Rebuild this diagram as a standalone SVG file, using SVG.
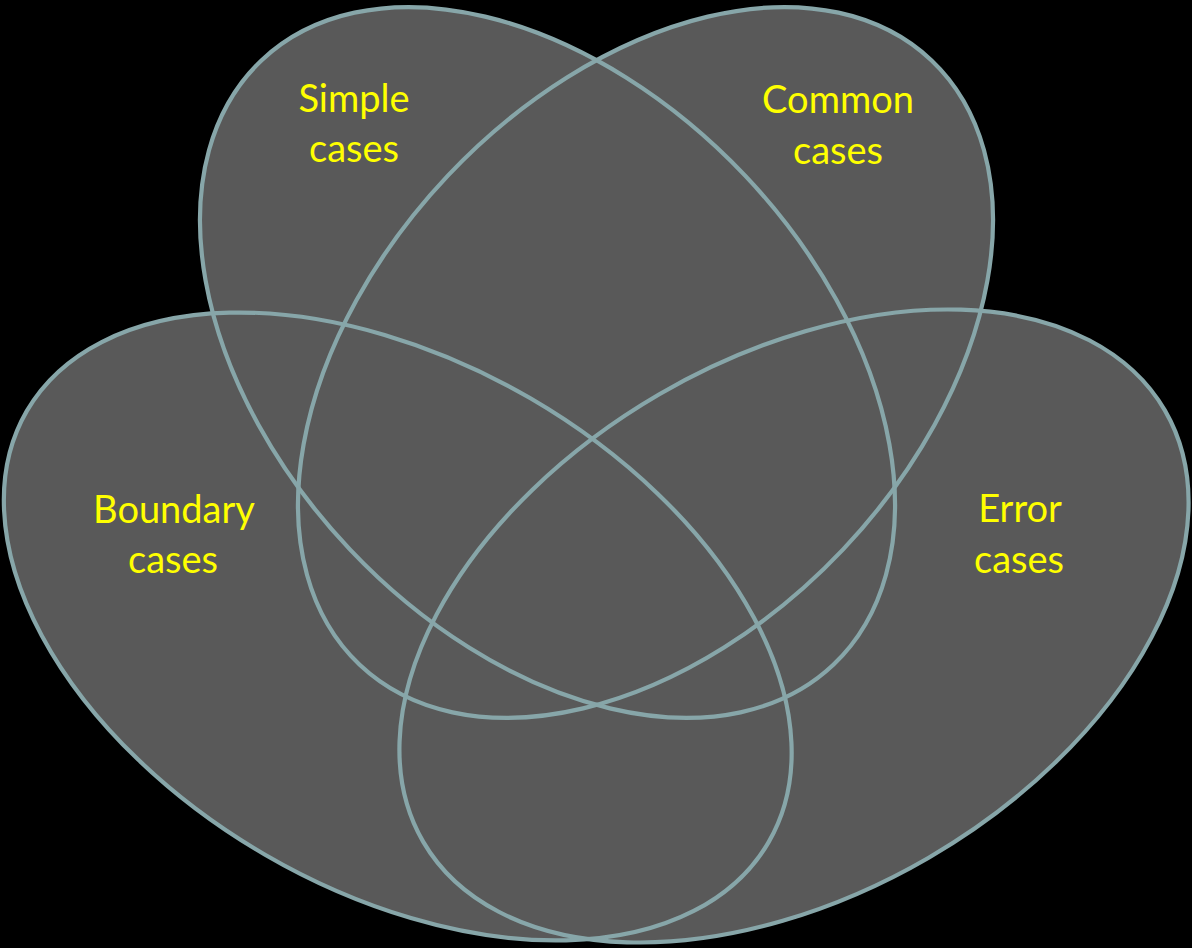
<svg xmlns="http://www.w3.org/2000/svg" xmlns:xlink="http://www.w3.org/1999/xlink" width="1192" height="948" viewBox="0 0 1192 948">
  <style>
    .fill { fill: #595959; stroke: none; }
    .outline { fill: none; stroke: #87a6a9; stroke-width: 4.2; }
    .label { font-family: Lato, "Liberation Sans", sans-serif; font-size: 38px; fill: #ffff00; text-anchor: middle; }
  </style>
  <defs>
    <ellipse id="shape-simple" cx="547.5" cy="362.5" rx="416" ry="272" transform="rotate(46.6 547.5 362.5)"/>
    <ellipse id="shape-common" cx="645.5" cy="362.5" rx="416" ry="272" transform="rotate(-46.6 645.5 362.5)"/>
    <ellipse id="shape-boundary" cx="397.75" cy="626.5" rx="429" ry="264" transform="rotate(30.17 397.75 626.5)"/>
    <ellipse id="shape-error" cx="794" cy="626" rx="429" ry="268" transform="rotate(-30.17 794 626)"/>
  </defs>
  <rect x="0" y="0" width="1192" height="948" fill="#000000"/>
  <g id="node-simple">
    <use xlink:href="#shape-simple" class="fill"/>
    <text class="label" x="354" y="112">Simple</text>
    <text class="label" x="354" y="162">cases</text>
  </g>
  <g id="node-common">
    <use xlink:href="#shape-common" class="fill"/>
    <text class="label" x="838" y="113">Common</text>
    <text class="label" x="838" y="164">cases</text>
  </g>
  <g id="node-boundary">
    <use xlink:href="#shape-boundary" class="fill"/>
    <text class="label" x="174" y="523">Boundary</text>
    <text class="label" x="173" y="573">cases</text>
  </g>
  <g id="node-error">
    <use xlink:href="#shape-error" class="fill"/>
    <text class="label" x="1020" y="522">Error</text>
    <text class="label" x="1019" y="573">cases</text>
  </g>
  <g id="connectors">
    <use xlink:href="#shape-simple" class="outline"/>
    <use xlink:href="#shape-common" class="outline"/>
    <use xlink:href="#shape-boundary" class="outline"/>
    <use xlink:href="#shape-error" class="outline"/>
  </g>
</svg>
